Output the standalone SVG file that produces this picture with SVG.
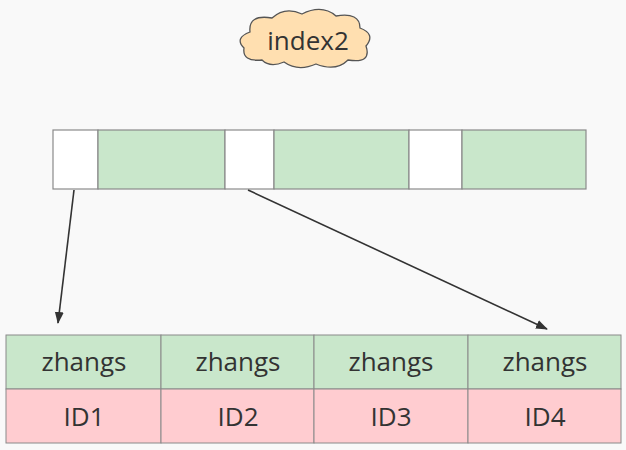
<svg xmlns="http://www.w3.org/2000/svg" width="626" height="450" viewBox="0 0 626 450">
<defs>
<style>
.w{fill:#ffffff;stroke:#8a8a8a;stroke-width:1.2}
.g{fill:#c9e7cb;stroke:#8a8a8a;stroke-width:1.2}
.p{fill:#ffccd0;stroke:#8a8a8a;stroke-width:1}
.gc{fill:#c9e7cb;stroke:#8a8a8a;stroke-width:1}
.t{font-family:"Open Sans","Noto Sans",sans-serif;font-size:26px;fill:#333;text-anchor:middle;dominant-baseline:central}
.c{stroke:#333;stroke-width:1.6;fill:none;marker-end:url(#ah)}
</style>
<marker id="ah" markerWidth="12" markerHeight="12" refX="11" refY="6" orient="auto" markerUnits="userSpaceOnUse">
<path d="M0,1.5 L12,6 L0,10.5 Z" fill="#333"/>
</marker>
</defs>
<rect width="626" height="450" fill="#f9f9f9"/>
<g id="cloud">
<path d="M262,60 Q242,62 244,48 Q234,38 250,32 Q248,14 272,18 Q285,6 302,14 Q322,4 336,16 Q360,12 360,28 Q376,34 366,46 Q372,64 348,60 Q336,72 316,64 Q298,72 284,62 Q270,68 262,60 Z" fill="#ffdfb0" stroke="#555" stroke-width="1.3"/>
<text class="t" x="308" y="40">index2</text>
</g>
<g id="index-bar">
<rect class="w" x="53" y="130" width="45" height="59"/>
<rect class="g" x="98" y="130" width="127" height="59"/>
<rect class="w" x="225" y="130" width="49" height="59"/>
<rect class="g" x="274" y="130" width="135" height="59"/>
<rect class="w" x="409" y="130" width="53" height="59"/>
<rect class="g" x="462" y="130" width="124" height="59"/>
</g>
<g id="leaf">
<rect class="gc" x="6" y="335" width="155" height="54"/>
<rect class="gc" x="161" y="335" width="153" height="54"/>
<rect class="gc" x="314" y="335" width="154" height="54"/>
<rect class="gc" x="468" y="335" width="153" height="54"/>
<rect class="p" x="6" y="389" width="155" height="54"/>
<rect class="p" x="161" y="389" width="153" height="54"/>
<rect class="p" x="314" y="389" width="154" height="54"/>
<rect class="p" x="468" y="389" width="153" height="54"/>
<text class="t" x="84" y="361">zhangs</text>
<text class="t" x="238" y="361">zhangs</text>
<text class="t" x="391" y="361">zhangs</text>
<text class="t" x="545" y="361">zhangs</text>
<text class="t" x="84" y="416">ID1</text>
<text class="t" x="238" y="416">ID2</text>
<text class="t" x="391" y="416">ID3</text>
<text class="t" x="545" y="416">ID4</text>
</g>
<g id="connectors">
<line class="c" x1="74" y1="190" x2="58" y2="323"/>
<line class="c" x1="248" y1="190" x2="547" y2="329"/>
</g>
</svg>
